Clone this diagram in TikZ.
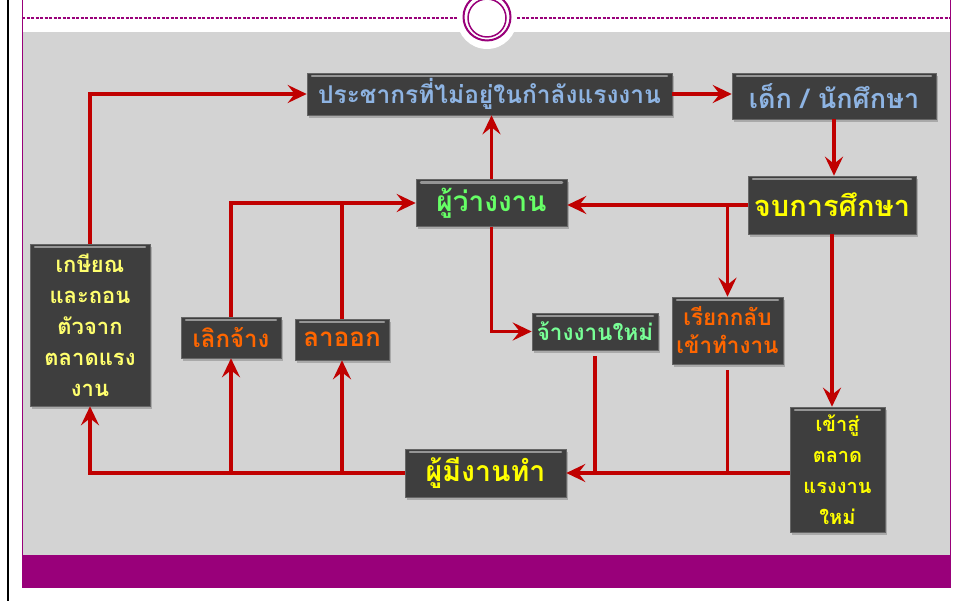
\documentclass[tikz,border=0pt]{standalone}
\usepackage{fontspec}
\newfontfamily\thaifont[Script=Thai]{Loma}
\usetikzlibrary{arrows.meta,shadows}
\definecolor{linkred}{RGB}{192,0,0}
\definecolor{frame}{RGB}{153,0,122}
\definecolor{panel}{RGB}{211,211,211}
\definecolor{boxfill}{RGB}{62,62,62}
\definecolor{tblue}{RGB}{142,180,227}
\definecolor{tyellow}{RGB}{255,255,0}
\definecolor{tpale}{RGB}{255,255,110}
\definecolor{tgreen}{RGB}{102,255,102}
\definecolor{tmint}{RGB}{120,255,150}
\definecolor{torange}{RGB}{255,102,0}
\newcommand\tsize[2]{\fontsize{#1}{#2}\selectfont}
\tikzset{
  box/.style={draw=black!60, fill=boxfill, line width=0.6pt, inner sep=2pt, align=center,
    drop shadow={shadow xshift=2pt, shadow yshift=-3pt, opacity=0.5},
    path picture={\draw[white!45!boxfill, line width=2.5pt, line cap=round]
      ([xshift=5pt,yshift=-3pt]path picture bounding box.north west) --
      ([xshift=-5pt,yshift=-3pt]path picture bounding box.north east);}},
  link/.style={draw=linkred, line width=3.2pt, -{Stealth[length=19pt,width=18pt,inset=7pt]}},
  bare/.style={draw=linkred, line width=3.2pt}
}
\begin{document}
\begin{tikzpicture}[x=1pt,y=-1pt]
\useasboundingbox (0,0) rectangle (956,601);
\fill[white] (0,0) rectangle (956,601);
\fill[panel] (22,32) rectangle (950,555);
\fill[frame] (22,555) rectangle (950,588);
\draw[frame, line width=1pt] (22,0) -- (22,588) (950,0) -- (950,588);
\draw[black, line width=2.5pt] (8,0) -- (8,601);
\draw[frame, line width=1.3pt, dash pattern=on 3pt off 1.5pt] (22,18) -- (458,18) (517,18) -- (950,18);
\fill[white] (487,19) circle (30);
\draw[frame, line width=2pt] (487,17) circle (23.5);
\draw[frame, line width=1.5pt] (487,18) circle (19);

\node[box, minimum width=365pt, minimum height=42pt, text=tblue, font=\thaifont\bfseries\tsize{24.5}{30}] (pop) at (489.5,94) {ประชากรที่ไม่อยู่ในกำลังแรงงาน};
\node[box, minimum width=204pt, minimum height=46pt, text=tblue, font=\thaifont\bfseries\tsize{27}{32}] (kid) at (834,96) {เด็ก / นักศึกษา};
\node[box, minimum width=168pt, minimum height=58pt, text=tyellow, font=\thaifont\bfseries\tsize{29}{34}] (grad) at (832,205) {จบการศึกษา};
\node[box, minimum width=151pt, minimum height=47pt, text=tgreen, font=\thaifont\bfseries\tsize{28}{34}] (unemp) at (491.5,203) {ผู้ว่างงาน};
\node[box, minimum width=126pt, minimum height=37pt, text=tmint, font=\thaifont\bfseries\tsize{22.5}{28}] (hire) at (595,331.5) {จ้างงานใหม่};
\node[box, minimum width=111pt, minimum height=67pt, text=torange, font=\thaifont\bfseries\tsize{22.5}{28}] (recall) at (727.5,330.5) {เรียกกลับ\\เข้าทำงาน};
\node[box, minimum width=95pt, minimum height=125pt, text=tyellow, font=\thaifont\bfseries\tsize{20}{31}] (newin) at (837.5,469.5) {เข้าสู่\\ตลาด\\แรงงาน\\ใหม่};
\node[box, minimum width=161pt, minimum height=48pt, text=tyellow, font=\thaifont\bfseries\tsize{28.5}{34}] (emp) at (485.5,473) {ผู้มีงานทำ};
\node[box, minimum width=120pt, minimum height=162pt, text=tpale, font=\thaifont\bfseries\tsize{22}{31}] (retire) at (90,325) {เกษียณ\\และถอน\\ตัวจาก\\ตลาดแรง\\งาน};
\node[box, minimum width=100pt, minimum height=41pt, text=torange, font=\thaifont\bfseries\tsize{24}{28}] (layoff) at (231,337.5) {เลิกจ้าง};
\node[box, minimum width=94pt, minimum height=41pt, text=torange, font=\thaifont\bfseries\tsize{26}{30}] (quit) at (342,339.5) {ลาออก};

\draw[link] (retire.north) |- (pop.west);
\draw[link] (pop.east) -- (pop.east -| kid.west);
\draw[link] (kid.south) -- (kid.south |- grad.north);
\draw[link] (grad.west) -- (grad.west -| unemp.east);
\draw[link] (recall.north |- grad.west) -- (recall.north);
\draw[link] (unemp.north) -- (unemp.north |- pop.south);
\draw[link] (unemp.south) |- (hire.west);
\draw[link] (grad.south) -- (grad.south |- newin.north);
\draw[link] (emp.east -| newin.west) -- (emp.east);
\draw[bare] ([yshift=-6pt]hire.south) -- (hire.south |- emp.east);
\draw[bare] ([yshift=-6pt]recall.south) -- (recall.south |- emp.east);
\draw[link] (emp.west) -| (retire.south);
\draw[link] (layoff.south |- emp.west) -- (layoff.south);
\draw[link] (quit.south |- emp.west) -- (quit.south);
\draw[link] (layoff.north) |- (unemp.west);
\draw[bare] (quit.north) -- (quit.north |- unemp.west);
\end{tikzpicture}
\end{document}
